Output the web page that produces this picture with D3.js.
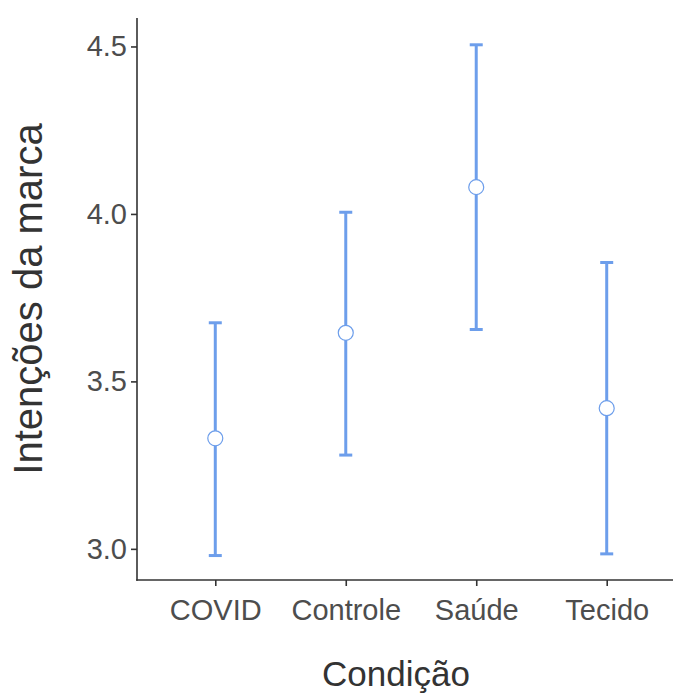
<!DOCTYPE html>
<html><head><meta charset="utf-8">
<script src="https://cdn.jsdelivr.net/npm/d3@7/dist/d3.min.js"></script>
<style>html,body{margin:0;padding:0;background:#fff;} svg{display:block;}</style>
</head><body>
<svg id="chart" width="673" height="698"></svg>
<script>
const categories = ["COVID", "Controle", "Saúde", "Tecido"];
const means = [3.33, 3.645, 4.08, 3.42];
const lowers = [2.98, 3.28, 3.655, 2.985];
const uppers = [3.675, 4.005, 4.505, 3.855];
const yTicks = [3.0, 3.5, 4.0, 4.5];
const xTitle = "Condição";
const yTitle = "Intenções da marca";

(function () {
const svg = d3.select("#chart");
const pL = 137, pR = 685, pT = 18, pB = 580;
const x = d3.scalePoint().domain(categories).range([pL, pR]).padding(0.6);
const y = d3.scaleLinear().domain([2.907, 4.585]).range([pB, pT]);
const blue = "#6d9eeb";
const font = "'Liberation Sans', Arial, sans-serif";

const yAxis = svg.append("g").attr("transform", `translate(${pL},0)`)
  .call(d3.axisLeft(y).tickValues(yTicks).tickFormat(d3.format(".1f")).tickSize(6).tickPadding(4));
const xAxis = svg.append("g").attr("transform", `translate(0,${pB})`)
  .call(d3.axisBottom(x).tickSize(6).tickPadding(6));
[yAxis, xAxis].forEach(g => {
  g.select(".domain").remove();
  g.selectAll(".tick line").attr("stroke", "#333").attr("stroke-width", 1.6);
  g.selectAll(".tick text").attr("fill", "#4d4d4d").style("font-family", font).style("font-size", "29px");
});
xAxis.selectAll(".tick text").attr("dy", "0.95em");
svg.append("line").attr("x1", pL).attr("x2", pL).attr("y1", pT).attr("y2", pB + 0.8)
  .attr("stroke", "#333").attr("stroke-width", 1.6);
svg.append("line").attr("x1", pL - 0.8).attr("x2", pR).attr("y1", pB).attr("y2", pB)
  .attr("stroke", "#333").attr("stroke-width", 1.6);

const data = categories.map((c, i) => ({c, m: means[i], lo: lowers[i], hi: uppers[i]}));
const g = svg.append("g");
const capW = 6.5;
g.selectAll(".bar").data(data).enter().append("line")
  .attr("x1", d => x(d.c)).attr("x2", d => x(d.c))
  .attr("y1", d => y(d.lo)).attr("y2", d => y(d.hi))
  .attr("stroke", blue).attr("stroke-width", 3);
g.selectAll(".capTop").data(data).enter().append("line")
  .attr("x1", d => x(d.c) - capW).attr("x2", d => x(d.c) + capW)
  .attr("y1", d => y(d.hi)).attr("y2", d => y(d.hi))
  .attr("stroke", blue).attr("stroke-width", 3);
g.selectAll(".capBot").data(data).enter().append("line")
  .attr("x1", d => x(d.c) - capW).attr("x2", d => x(d.c) + capW)
  .attr("y1", d => y(d.lo)).attr("y2", d => y(d.lo))
  .attr("stroke", blue).attr("stroke-width", 3);
g.selectAll(".pt").data(data).enter().append("circle")
  .attr("cx", d => x(d.c)).attr("cy", d => y(d.m)).attr("r", 7.5)
  .attr("fill", "#fff").attr("stroke", blue).attr("stroke-width", 1.2);

svg.append("text").attr("x", 396).attr("y", 686).attr("text-anchor", "middle")
  .attr("fill", "#333").style("font-family", font).style("font-size", "35px").text(xTitle);
svg.append("text").attr("transform", `translate(42,299) rotate(-90)`).attr("text-anchor", "middle")
  .attr("fill", "#333").style("font-family", font).style("font-size", "40px").text(yTitle);
})();
</script>
</body></html>
